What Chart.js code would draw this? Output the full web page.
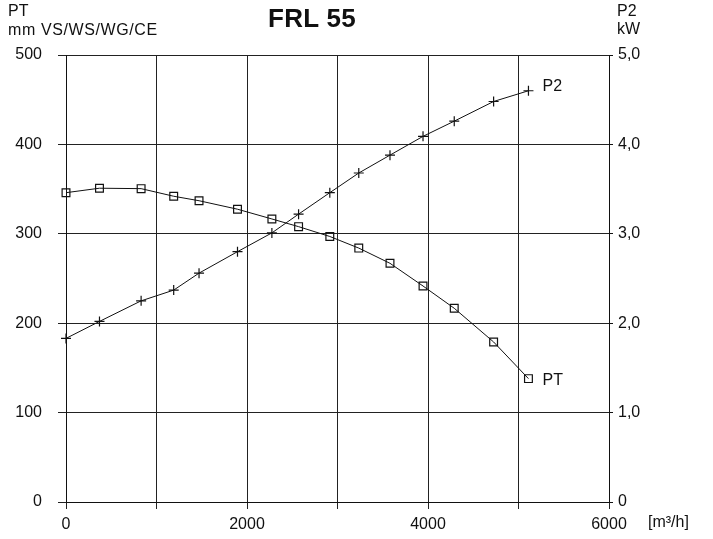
<!DOCTYPE html>
<html><head><meta charset="utf-8">
<script src="https://cdn.jsdelivr.net/npm/chart.js@4/dist/chart.umd.min.js"></script>
<style>
html,body{margin:0;padding:0;background:#fff;}
#wrap{position:relative;width:713px;height:539px;font-family:"Liberation Sans",Arial,sans-serif;color:#111;}
canvas{position:absolute;left:0;top:0;}
.t{position:absolute;font-size:16px;line-height:16px;white-space:nowrap;}
</style></head>
<body><div id="wrap">
<canvas id="c" width="713" height="539"></canvas>
<div class="t" style="left:8px;top:3px;">PT</div>
<div class="t" style="left:8px;top:22px;letter-spacing:0.6px;">mm VS/WS/WG/CE</div>
<div class="t" style="left:268px;top:5px;font-size:26px;line-height:26px;font-weight:bold;letter-spacing:0.3px;">FRL 55</div>
<div class="t" style="left:617px;top:3px;">P2</div>
<div class="t" style="left:617px;top:21px;">kW</div>
<div class="t" style="left:648px;top:514px;">[m³/h]</div>
</div>
<script>
const flow = [0, 370, 830, 1190, 1470, 1895, 2275, 2570, 2915, 3235, 3580, 3945, 4290, 4725, 5110];
const ptValues = [346, 351, 350.5, 342, 337, 327.5, 316.6, 308, 297, 284, 267, 241.6, 216.7, 179, 138];
const p2Values = [1.83, 2.02, 2.25, 2.37, 2.56, 2.80, 3.01, 3.22, 3.46, 3.68, 3.88, 4.09, 4.26, 4.48, 4.60];
const seriesNames = ['PT', 'P2'];
const FONT = '"Liberation Sans", Arial, sans-serif';

const endLabels = {
  id: 'endLabels',
  afterDatasetsDraw(chart) {
    const ctx = chart.ctx;
    ctx.save();
    ctx.font = '16px ' + FONT;
    ctx.fillStyle = '#111';
    ctx.textBaseline = 'middle';
    chart.data.datasets.forEach((ds, i) => {
      const meta = chart.getDatasetMeta(i);
      const pt = meta.data[meta.data.length - 1];
      ctx.fillText(ds.label, pt.x + 14, pt.y + (i === 0 ? 2 : -4));
    });
    ctx.restore();
  }
};

new Chart(document.getElementById('c'), {
  type: 'line',
  data: {
    datasets: [
      { label: seriesNames[0], yAxisID: 'y', data: flow.map((x, i) => ({x, y: ptValues[i]})),
        borderColor: '#111', borderWidth: 1, pointStyle: 'rect', pointRadius: 5.5,
        pointBorderColor: '#111', pointBackgroundColor: 'rgba(255,255,255,0)', pointBorderWidth: 1.2, tension: 0, clip: false },
      { label: seriesNames[1], yAxisID: 'y2', data: flow.map((x, i) => ({x, y: p2Values[i]})),
        borderColor: '#111', borderWidth: 1, pointStyle: 'cross', pointRadius: 5,
        pointBorderColor: '#111', pointBorderWidth: 1.2, tension: 0, clip: false }
    ]
  },
  options: {
    responsive: false, animation: false,
    layout: { padding: { top: 55, left: 0, right: 0, bottom: 0 } },
    plugins: { legend: { display: false }, tooltip: { enabled: false }, title: { display: false } },
    scales: {
      x: {
        type: 'linear', min: 0, max: 6000,
        ticks: { stepSize: 1000, color: '#111', font: { size: 16, family: FONT },
          padding: 6, maxRotation: 0,
          callback: v => (v % 2000 === 0 ? String(v) : '') },
        grid: { color: '#222', lineWidth: 1, tickLength: 7, drawTicks: true },
        border: { color: '#111', width: 1 },
        afterFit: s => { s.height = 37; }
      },
      y: {
        position: 'left', min: 0, max: 500,
        ticks: { stepSize: 100, color: '#111', font: { size: 16, family: FONT }, padding: 16 },
        grid: { color: '#222', lineWidth: 1, tickLength: 8 },
        border: { color: '#111', width: 1 },
        afterFit: s => { s.width = 66; }
      },
      y2: {
        position: 'right', min: 0, max: 5,
        ticks: { stepSize: 1, color: '#111', font: { size: 16, family: FONT }, padding: 5,
          callback: v => (v === 0 ? '0' : v.toFixed(1).replace('.', ',')) },
        grid: { drawOnChartArea: false, color: '#111', tickLength: 4 },
        border: { color: '#111', width: 1 },
        afterFit: s => { s.width = 104; }
      }
    }
  },
  plugins: [endLabels]
});
</script>
</body></html>
